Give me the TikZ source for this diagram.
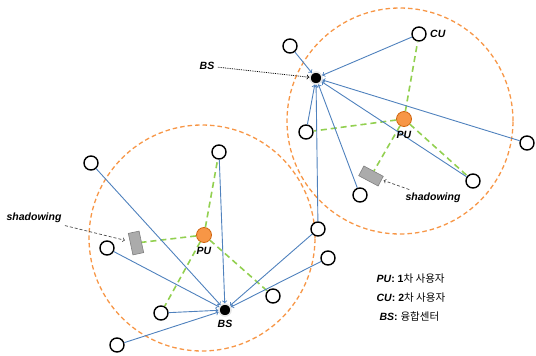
\documentclass[tikz,border=0pt]{standalone}
\usepackage{fontspec}
\setmainfont{Liberation Sans}
\newfontfamily\kr{Noto Sans CJK KR}
\usetikzlibrary{arrows, positioning}
\definecolor{linkblue}{HTML}{4F81BD}
\definecolor{sensegreen}{HTML}{92D050}
\definecolor{cellorange}{HTML}{F79646}
\definecolor{puedge}{HTML}{D0650F}
\tikzstyle{user} = [draw, circle, line width=1.4pt, fill=white, minimum size=14pt, inner sep=0pt]
\tikzstyle{fusion} = [circle, fill=black, draw=black!10, line width=1.5pt, minimum size=12pt, inner sep=0pt]
\tikzstyle{primary} = [circle, fill=cellorange, draw=puedge, line width=0.8pt, minimum size=15pt, inner sep=0pt]
\tikzstyle{cell} = [circle, draw=cellorange, line width=1.3pt, dash pattern=on 4.5pt off 3pt, minimum size=226pt]
\tikzstyle{block} = [draw=black!50, fill=black!33, line width=0.6pt, minimum width=22pt, minimum height=11pt, inner sep=0pt]
\tikzstyle{arrow} = [->,>=to,linkblue,line width=0.9pt]
\tikzstyle{sense} = [sensegreen,line width=1.6pt,dash pattern=on 6pt off 4pt]
\tikzstyle{tag} = [font=\fontsize{10.5}{12}\selectfont\bfseries\itshape]
\tikzstyle{legend} = [anchor=west, font=\fontsize{10.5}{12}\selectfont]

\begin{document}
\begin{tikzpicture}[x=1pt,y=-1pt]
    \useasboundingbox (0,0) rectangle (536,356);

    % --- coverage circles
    \node[cell] (cellA) at (400,121) {};
    \node[cell] (cellB) at (202,238) {};

    % --- upper cell
    \node[fusion] (bsA) at (316,78) {};
    \node[primary] (puA) at (404,119) {};
    \node[user] (tlA) at (290,46) {};
    \node[user] (cuA) at (419,34) {};
    \node[user] (lA) at (306,132) {};
    \node[user] (rA) at (527,143) {};
    \node[user] (lrA) at (473,181) {};
    \node[user] (bA) at (360,195) {};
    \node[block, rotate=-28] (blockA) at (371,176) {};
    % --- node shared by both cells
    \node[user] (mid) at (318,229) {};

    % --- lower cell
    \node[fusion] (bsB) at (225,310) {};
    \node[primary] (puB) at (204,235) {};
    \node[user] (tlB) at (91,163) {};
    \node[user] (tB) at (219,152) {};
    \node[user] (lB) at (107,248) {};
    \node[user] (llB) at (161,313) {};
    \node[user] (botB) at (117,345) {};
    \node[user] (rB) at (328,258) {};
    \node[user] (lrB) at (273,296) {};
    \node[block, rotate=102] (blockB) at (136,243) {};

    % --- sensing links (PU)
    \draw[sense] (puA) -- (cuA);
    \draw[sense] (puA) -- (lA);
    \draw[sense] (puA) -- (blockA);
    \draw[sense] (puA) -- (lrA);
    \draw[sense] (puB) -- (tB);
    \draw[sense] (puB) -- (blockB);
    \draw[sense] (puB) -- (llB);
    \draw[sense] (puB) -- (lrB);

    % --- reports to upper BS
    \draw[arrow] (tlA) -- (bsA);
    \draw[arrow] (cuA) -- (bsA);
    \draw[arrow] (rA) -- (bsA);
    \draw[arrow] (lrA) -- (bsA);
    \draw[arrow] (bA) -- (bsA);
    \draw[arrow] (lA) -- (bsA);
    \draw[arrow] (mid) -- (bsA);
    % --- reports to lower BS
    \draw[arrow] (tlB) -- (bsB);
    \draw[arrow] (tB) -- (bsB);
    \draw[arrow] (lB) -- (bsB);
    \draw[arrow] (llB) -- (bsB);
    \draw[arrow] (botB) -- (bsB);
    \draw[arrow] (mid) -- (bsB);
    \draw[arrow] (rB) -- (bsB);

    % --- labels
    \node[tag, right=0pt of cuA] (cuAtag) {CU};
    \node[tag, below=1pt of puA] (puAtag) {PU};
    \node[tag, below=1pt of puB] (puBtag) {PU};
    \node[tag, below=0pt of bsB] (bsBtag) {BS};
    \node[tag] (bsAtag) at (207,66) {BS};
    \draw[->,>=to,densely dotted,line width=0.8pt] (bsAtag) -- (bsA);
    \node[tag] (shadA) at (433,198) {shadowing};
    \draw[->,>=to,densely dashed,black!70,line width=0.7pt,shorten >=2pt] (shadA) -- (blockA);
    \node[tag] (shadB) at (34,218) {shadowing};
    \draw[->,>=to,densely dashed,black!70,line width=0.7pt,shorten >=5pt] (shadB) -- (blockB);

    % --- legend
    \node[legend] (legPU) at (373,279) {\textbf{\textit{PU}: 1}{\kr 차 사용자}};
    \node[legend] (legCU) at (373,298) {\textbf{\textit{CU}: 2}{\kr 차 사용자}};
    \node[legend] (legBS) at (376,317) {\textbf{\textit{BS}:} {\kr 융합센터}};

\end{tikzpicture}
\end{document}
